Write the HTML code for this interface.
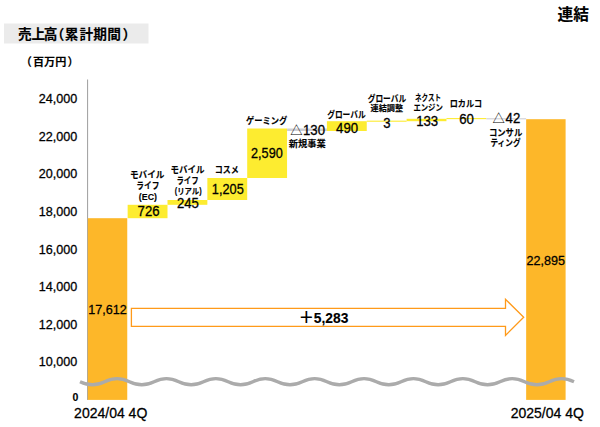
<!DOCTYPE html>
<html lang="ja"><head><meta charset="utf-8"><title>売上高（累計期間）</title>
<style>html,body{margin:0;padding:0;background:#fff}body{width:600px;height:427px;overflow:hidden}svg{display:block}text{font-family:"Liberation Sans", "Noto Sans CJK JP", sans-serif;fill:#000}.b{font-weight:700;stroke:#000;stroke-width:.12px}.n{stroke:#000;stroke-width:.28px}</style></head><body>
<svg width="600" height="427" viewBox="0 0 600 427">
<rect width="600" height="427" fill="#fff"/>
<rect x="4" y="23.5" width="144.5" height="20" fill="#EBEBEB"/>
<text class="b" y="39.3" font-size="13.7" x="18 31.4 43.8 50.7 64.8 79.4 93.3 107.2 122.4">売上高（累計期間）</text>
<text class="b" x="557.5" y="19.5" font-size="15.7">連結</text>
<text class="b" y="66" font-size="11.1" x="20.8 33 44.1 55.2 67.4">（百万円）</text>
<rect x="87" y="79.5" width="1.1" height="320.4" fill="#A6A6A6"/>
<text class="n" x="77.2" y="366.2" font-size="12.6" text-anchor="end">10,000</text>
<text class="n" x="77.2" y="329.3" font-size="12.6" text-anchor="end">12,000</text>
<text class="n" x="77.2" y="291.1" font-size="12.6" text-anchor="end">14,000</text>
<text class="n" x="77.2" y="253.7" font-size="12.6" text-anchor="end">16,000</text>
<text class="n" x="77.2" y="215.7" font-size="12.6" text-anchor="end">18,000</text>
<text class="n" x="77.2" y="178.3" font-size="12.6" text-anchor="end">20,000</text>
<text class="n" x="77.2" y="140.8" font-size="12.6" text-anchor="end">22,000</text>
<text class="n" x="77.2" y="103.3" font-size="12.6" text-anchor="end">24,000</text>
<text class="b" x="78.4" y="400.6" font-size="10.5" text-anchor="end">0</text>
<rect x="87.80" y="218.20" width="39.45" height="181.70" fill="#FDB729"/>
<rect x="526.15" y="119.20" width="39.45" height="280.70" fill="#FDB729"/>
<rect x="127.65" y="204.80" width="39.85" height="13.40" fill="#FDEC30"/>
<rect x="167.50" y="200.00" width="39.85" height="4.80" fill="#FDEC30"/>
<rect x="207.35" y="178.00" width="39.85" height="22.00" fill="#FDEC30"/>
<rect x="247.20" y="128.50" width="39.85" height="49.50" fill="#FDEC30"/>
<rect x="287.05" y="128.50" width="39.85" height="2.50" fill="#CECED4"/>
<rect x="326.90" y="121.20" width="39.85" height="9.80" fill="#FDEC30"/>
<rect x="366.75" y="120.65" width="39.85" height="1.10" fill="#FDEC30"/>
<rect x="406.60" y="118.80" width="39.85" height="2.40" fill="#FDEC30"/>
<rect x="446.45" y="118.05" width="39.85" height="1.10" fill="#FDEC30"/>
<rect x="486.30" y="118.25" width="39.85" height="1.10" fill="#CECED4"/>
<path d="M131.4 308.3H505.5V299.3L523.7 317.3L505.5 335.4V326.3H131.4Z" fill="#fff" stroke="#FF9A1A" stroke-width="1.3" stroke-linejoin="miter"/>
<text y="323.1" font-size="15.7" x="298.5" style="font-weight:700">＋</text><text class="b" y="322.9" font-size="13.8" x="313.8">5,283</text>
<path d="M80 381.7C89.0 385.8 95.7 385.8 104.7 381.7C113.7 377.6 120.4 377.6 129.4 381.7C138.4 385.8 145.1 385.8 154.1 381.7C163.1 377.6 169.8 377.6 178.8 381.7C187.8 385.8 194.5 385.8 203.5 381.7C212.5 377.6 219.2 377.6 228.2 381.7C237.2 385.8 243.9 385.8 252.9 381.7C261.9 377.6 268.6 377.6 277.6 381.7C286.6 385.8 293.3 385.8 302.3 381.7C311.3 377.6 318.0 377.6 327.0 381.7C336.0 385.8 342.7 385.8 351.7 381.7C360.7 377.6 367.4 377.6 376.4 381.7C385.4 385.8 392.1 385.8 401.1 381.7C410.1 377.6 416.8 377.6 425.8 381.7C434.8 385.8 441.5 385.8 450.5 381.7C459.5 377.6 466.2 377.6 475.2 381.7C484.2 385.8 490.9 385.8 499.9 381.7C508.9 377.6 515.6 377.6 524.6 381.7C533.6 385.8 540.3 385.8 549.3 381.7C558.3 377.6 565.0 377.6 574.0 381.7" fill="none" stroke="#ABABAB" stroke-width="3.4" stroke-linecap="butt"/>
<text class="n" x="107.6" y="314.4" font-size="13.4" text-anchor="middle" textLength="38.5" lengthAdjust="spacingAndGlyphs">17,612</text>
<text class="n" x="545.8" y="264.6" font-size="13.4" text-anchor="middle" textLength="38.5" lengthAdjust="spacingAndGlyphs">22,895</text>
<text class="n" x="148.6" y="216.0" font-size="14.0" text-anchor="middle" textLength="22.0" lengthAdjust="spacingAndGlyphs">726</text>
<text class="n" x="187.9" y="208.0" font-size="14.0" text-anchor="middle" textLength="22.0" lengthAdjust="spacingAndGlyphs">245</text>
<text class="n" x="227.8" y="193.5" font-size="14.0" text-anchor="middle" textLength="31.9" lengthAdjust="spacingAndGlyphs">1,205</text>
<text class="n" x="266.9" y="158.3" font-size="14.0" text-anchor="middle" textLength="31.7" lengthAdjust="spacingAndGlyphs">2,590</text>
<text class="n" x="347.1" y="132.5" font-size="14.0" text-anchor="middle" textLength="22.0" lengthAdjust="spacingAndGlyphs">490</text>
<text class="n" x="386.8" y="127.7" font-size="14.0" text-anchor="middle" textLength="7.3" lengthAdjust="spacingAndGlyphs">3</text>
<text class="n" x="427.2" y="125.8" font-size="14.0" text-anchor="middle" textLength="22.0" lengthAdjust="spacingAndGlyphs">133</text>
<text class="n" x="466.6" y="124.3" font-size="14.0" text-anchor="middle" textLength="14.7" lengthAdjust="spacingAndGlyphs">60</text>
<text x="290.3" y="134.5" font-size="12.3">△</text><text class="n" x="303" y="134.6" font-size="14" textLength="22" lengthAdjust="spacingAndGlyphs">130</text>
<text x="492.5" y="122.6" font-size="12.3">△</text><text class="n" x="505.6" y="122.7" font-size="14" textLength="14.7" lengthAdjust="spacingAndGlyphs">42</text>
<text class="b" x="147.2" y="178.3" font-size="9.2" text-anchor="middle" textLength="34.5" lengthAdjust="spacingAndGlyphs">モバイル</text>
<text class="b" x="147.9" y="188.8" font-size="9.2" text-anchor="middle" textLength="23.1" lengthAdjust="spacingAndGlyphs">ライフ</text>
<text class="b" x="147.9" y="200.0" font-size="8.8" text-anchor="middle" textLength="18.1" lengthAdjust="spacingAndGlyphs">(EC)</text>
<text class="b" x="187.5" y="172.5" font-size="9.2" text-anchor="middle" textLength="34.0" lengthAdjust="spacingAndGlyphs">モバイル</text>
<text class="b" x="187.5" y="183.7" font-size="9.2" text-anchor="middle" textLength="22.2" lengthAdjust="spacingAndGlyphs">ライフ</text>
<text class="b" x="188.2" y="193.5" font-size="8.3" text-anchor="middle" textLength="26.9" lengthAdjust="spacingAndGlyphs">(リアル)</text>
<text class="b" x="226.8" y="173.4" font-size="9.2" text-anchor="middle" textLength="24.1" lengthAdjust="spacingAndGlyphs">コスメ</text>
<text class="b" x="266.6" y="123.5" font-size="9.2" text-anchor="middle" textLength="41.3" lengthAdjust="spacingAndGlyphs">ゲーミング</text>
<text class="b" x="307.2" y="146.6" font-size="8.8" text-anchor="middle" textLength="37.1" lengthAdjust="spacingAndGlyphs">新規事業</text>
<text class="b" x="346.4" y="117.5" font-size="9.2" text-anchor="middle" textLength="38.4" lengthAdjust="spacingAndGlyphs">グローバル</text>
<text class="b" x="386.9" y="101.6" font-size="9.2" text-anchor="middle" textLength="38.4" lengthAdjust="spacingAndGlyphs">グローバル</text>
<text class="b" x="386.8" y="111.2" font-size="8.5" text-anchor="middle" textLength="32.6" lengthAdjust="spacingAndGlyphs">連結調整</text>
<text class="b" x="428.1" y="101.4" font-size="8.6" text-anchor="middle" textLength="26.1" lengthAdjust="spacingAndGlyphs">ネクスト</text>
<text class="b" x="428.1" y="110.9" font-size="8.6" text-anchor="middle" textLength="29.4" lengthAdjust="spacingAndGlyphs">エンジン</text>
<text class="b" x="465.9" y="107.0" font-size="9.2" text-anchor="middle" textLength="32.3" lengthAdjust="spacingAndGlyphs">ロカルコ</text>
<text class="b" x="505.6" y="135.6" font-size="9.2" text-anchor="middle" textLength="33.4" lengthAdjust="spacingAndGlyphs">コンサル</text>
<text class="b" x="505.5" y="145.8" font-size="9.2" text-anchor="middle" textLength="30.1" lengthAdjust="spacingAndGlyphs">ティング</text>
<text class="n" x="110.7" y="417.9" font-size="14" text-anchor="middle">2024/04 4Q</text>
<text class="n" x="547.3" y="417.9" font-size="14" text-anchor="middle">2025/04 4Q</text>
</svg></body></html>
